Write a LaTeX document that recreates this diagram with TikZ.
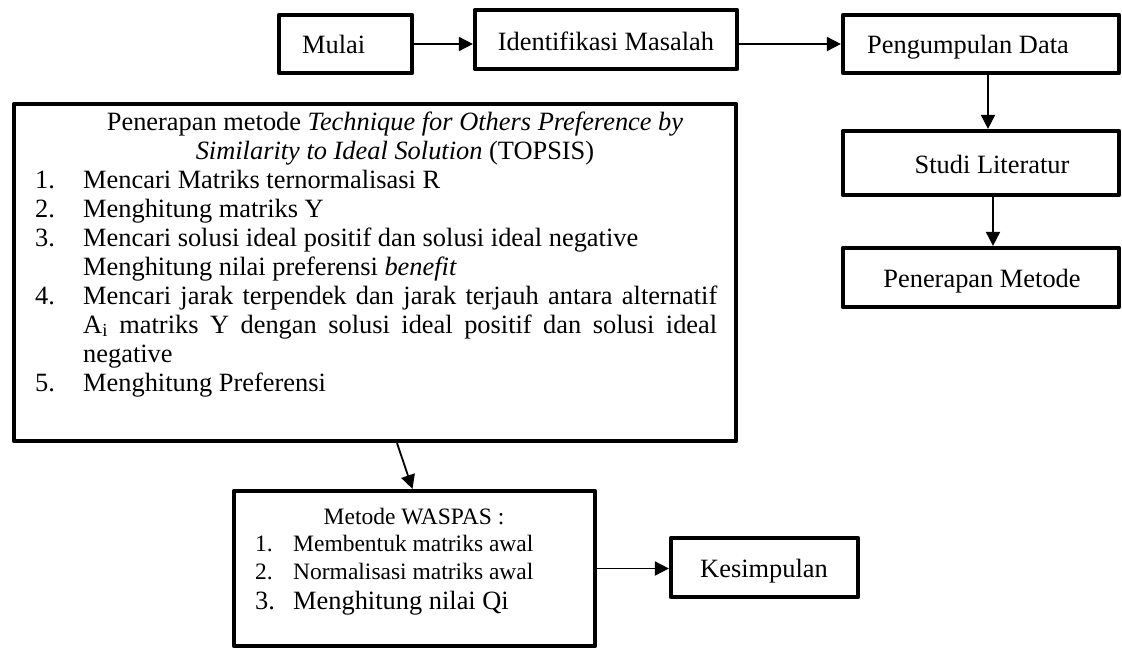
\documentclass[tikz,border=0pt]{standalone}
\usepackage{fontspec}
\setmainfont{Liberation Serif}
\usetikzlibrary{arrows.meta}
\begin{document}
\begin{tikzpicture}[x=1pt,y=-1pt,
  box/.style={draw, line width=4.2pt, line join=round, inner sep=0pt},
  txt/.style={inner sep=0pt, font=\fontsize{26.4}{29}\selectfont, anchor=base west},
  txtc/.style={txt, anchor=base},
  small/.style={inner sep=0pt, font=\fontsize{23.5}{26}\selectfont, anchor=base west},
  arr/.style={line width=1.8pt, -{Triangle[length=14pt,width=14pt]}}]
\useasboundingbox (0,0) rectangle (1122,651);

% boxes
\node[box, minimum width=133pt, minimum height=58pt] (mulai) at (345.5,44) {};
\node[box, minimum width=262pt, minimum height=59pt] (ident) at (606,39.5) {};
\node[box, minimum width=276pt, minimum height=58pt] (peng) at (981,44) {};
\node[box, minimum width=276pt, minimum height=64pt] (studi) at (981,163) {};
\node[box, minimum width=276pt, minimum height=59pt] (pen) at (981,277.5) {};
\node[box, minimum width=722pt, minimum height=337pt] (topsis) at (375,272.5) {};
\node[box, minimum width=361pt, minimum height=155pt] (waspas) at (414.5,568.5) {};
\node[box, minimum width=187pt, minimum height=59pt] (kes) at (764.5,567.5) {};

% box texts
\node[txt] (tmulai) at (302,53) {Mulai};
\node[txtc] (tident) at (606,50) {Identifikasi Masalah};
\node[txtc] (tpeng) at (968,53) {Pengumpulan Data};
\node[txtc] (tstudi) at (992,173) {Studi Literatur};
\node[txtc] (tpen) at (982,287) {Penerapan Metode};
\node[txtc] (tkes) at (764,577) {Kesimpulan};

% TOPSIS text
\node[txtc] (h1) at (395,130) {Penerapan metode \textit{Technique for Others Preference by}};
\node[txtc] (h2) at (395,159) {\textit{Similarity to Ideal Solution} (TOPSIS)};
\node[txt] (n1) at (35,188) {1.};
\node[txt] (i1) at (83,188) {Mencari Matriks ternormalisasi R};
\node[txt] (n2) at (35,217) {2.};
\node[txt] (i2) at (83,217) {Menghitung matriks Y};
\node[txt] (n3) at (35,246) {3.};
\node[txt] (i3) at (83,246) {Mencari solusi ideal positif dan solusi ideal negative};
\node[txt] (i3b) at (83,275) {Menghitung nilai preferensi \textit{benefit}};
\node[txt] (n4) at (35,304) {4.};
\node[txt] (i4) at (83,304) {\makebox[634pt][s]{Mencari jarak terpendek dan jarak terjauh antara alternatif}};
\node[txt] (i4b) at (83,333) {\makebox[634pt][s]{A\textsubscript{i} matriks Y dengan solusi ideal positif dan solusi ideal}};
\node[txt] (i4c) at (83,362) {negative};
\node[txt] (n5) at (35,391) {5.};
\node[txt] (i5) at (83,391) {Menghitung Preferensi};

% WASPAS text
\node[small, anchor=base] (w0) at (414,524) {Metode WASPAS :};
\node[small] (wn1) at (255,551) {1.};
\node[small] (w1) at (293,551) {Membentuk matriks awal};
\node[small] (wn2) at (255,579) {2.};
\node[small] (w2) at (293,579) {Normalisasi matriks awal};
\node[txt] (wn3) at (255,609) {3.};
\node[txt] (w3) at (293,609) {Menghitung nilai Qi};

% connectors
\draw[arr] (mulai.east) -- (mulai.east -| ident.west);
\draw[arr] (peng.west -| ident.east) -- (peng.west);
\draw[arr] ([xshift=7pt]peng.south) -- ([xshift=7pt]peng.south |- studi.north);
\draw[arr] ([xshift=12pt]studi.south) -- ([xshift=12pt]studi.south |- pen.north);
\draw[arr] ([xshift=22pt]topsis.south) -- ([xshift=-2pt]waspas.north);
\draw[arr] (waspas.east) -- (waspas.east -| kes.west);
\end{tikzpicture}
\end{document}
